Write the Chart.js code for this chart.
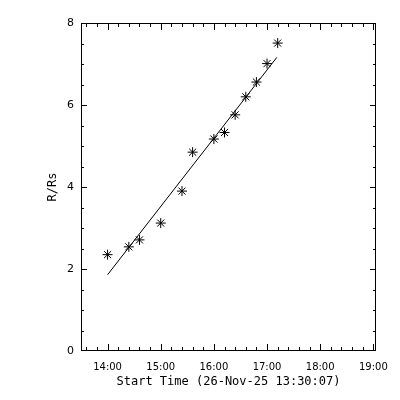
<!DOCTYPE html>
<html lang="en">
<head>
<meta charset="UTF-8">
<title>R/Rs vs Start Time</title>
<script src="https://cdn.jsdelivr.net/npm/chart.js"></script>
<style>
    * { margin: 0; padding: 0; box-sizing: border-box; }
    body { background: #ffffff; width: 400px; height: 400px; overflow: hidden; }
    #chart { display: block; }
</style>
</head>
<body>
<canvas id="chart" width="400" height="400"></canvas>
<script>
    // Measured points (start time, radius in solar radii)
    const times = ['14:00', '14:24', '14:36', '15:00', '15:24', '15:36', '16:00',
                   '16:12', '16:24', '16:36', '16:48', '17:00', '17:12'];
    const radii = [2.35, 2.54, 2.71, 3.12, 3.90, 4.85, 5.17, 5.33, 5.76, 6.20, 6.56, 7.01, 7.51];

    // Linear fit drawn over the points
    const fitTimes = ['14:00', '17:11'];
    const fitRadii = [1.86, 7.16];

    const xTickLabels = ['14:00', '15:00', '16:00', '17:00', '18:00', '19:00'];
    const yTickLabels = [0, 2, 4, 6, 8];

    const xTitle = 'Start Time (26-Nov-25 13:30:07)';
    const yTitle = 'R/Rs';

    // hh:mm -> decimal hours
    function toHours(s) {
        const [h, m] = s.split(':').map(Number);
        return h + m / 60;
    }

    const pts = times.map((t, i) => ({ x: toHours(t), y: radii[i] }));
    const fit = fitTimes.map((t, i) => ({ x: toHours(t), y: fitRadii[i] }));

    // IDL style box with inward major / minor ticks
    const boxTicks = {
        id: 'boxTicks',
        afterDraw(chart) {
            const { ctx, chartArea: a } = chart;
            const xs = chart.scales.x, ys = chart.scales.y;
            ctx.save();
            ctx.strokeStyle = '#000';
            ctx.lineWidth = 1;
            ctx.strokeRect(a.left + 0.5, a.top + 0.5, a.right - a.left - 1, a.bottom - a.top - 1);
            ctx.beginPath();
            // x ticks, minor every 12 minutes
            for (let v = 13.6; v <= xs.max + 1e-6; v += 0.2) {
                const major = Math.abs(v - Math.round(v)) < 1e-6;
                const len = major ? 7 : 4;
                const px = Math.round(xs.getPixelForValue(v)) + 0.5;
                ctx.moveTo(px, a.bottom); ctx.lineTo(px, a.bottom - len);
                ctx.moveTo(px, a.top); ctx.lineTo(px, a.top + len);
            }
            // y ticks, minor every 0.5
            for (let v = 0.5; v < 8; v += 0.5) {
                const major = v % 2 === 0;
                const len = major ? 6 : 3;
                const py = Math.round(ys.getPixelForValue(v)) + 0.5;
                ctx.moveTo(a.left, py); ctx.lineTo(a.left + len, py);
                ctx.moveTo(a.right, py); ctx.lineTo(a.right - len, py);
            }
            ctx.stroke();
            ctx.restore();
        }
    };

    new Chart(document.getElementById('chart'), {
        type: 'scatter',
        data: {
            datasets: [
                {
                    label: 'measured',
                    data: pts,
                    pointStyle: 'star',
                    radius: 5,
                    borderColor: '#000',
                    backgroundColor: '#000',
                    borderWidth: 1,
                    showLine: false
                },
                {
                    label: 'fit',
                    type: 'line',
                    data: fit,
                    borderColor: '#000',
                    borderWidth: 1,
                    pointRadius: 0,
                    fill: false
                }
            ]
        },
        options: {
            responsive: false,
            animation: false,
            devicePixelRatio: 1,
            layout: { padding: { top: 23, right: 24, bottom: 0, left: 0 } },
            plugins: { legend: { display: false }, tooltip: { enabled: false } },
            scales: {
                x: {
                    type: 'linear',
                    min: 13.5,
                    max: 19.05,
                    grid: { display: false, drawTicks: false },
                    border: { display: false },
                    afterBuildTicks: s => { s.ticks = xTickLabels.map(t => ({ value: toHours(t) })); },
                    afterFit: s => { s.height = 49; },
                    ticks: {
                        padding: 10,
                        maxRotation: 0,
                        autoSkip: false,
                        color: '#000',
                        font: { family: 'DejaVu Sans', size: 10 },
                        callback: (v, i) => xTickLabels[i]
                    },
                    title: {
                        display: true,
                        text: xTitle,
                        color: '#000',
                        font: { family: 'DejaVu Sans Mono', size: 12 },
                        padding: { top: 0, bottom: 11 }
                    }
                },
                y: {
                    min: 0,
                    max: 8,
                    grid: { display: false, drawTicks: false },
                    border: { display: false },
                    afterBuildTicks: s => { s.ticks = yTickLabels.map(v => ({ value: v })); },
                    afterFit: s => { s.width = 81; },
                    ticks: {
                        padding: 7,
                        color: '#000',
                        font: { family: 'DejaVu Sans', size: 11 }
                    },
                    title: {
                        display: true,
                        text: yTitle,
                        color: '#000',
                        font: { family: 'DejaVu Sans Mono', size: 12 },
                        padding: { top: 46, bottom: 0 }
                    }
                }
            }
        },
        plugins: [boxTicks]
    });
</script>
</body>
</html>
